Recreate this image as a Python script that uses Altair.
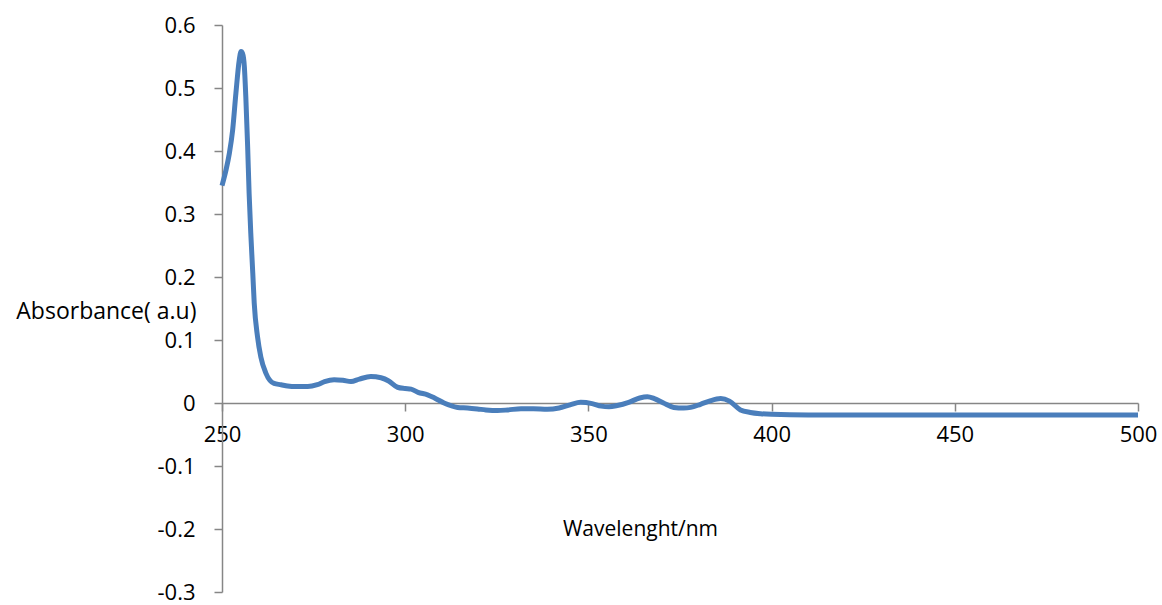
import altair as alt
import pandas as pd

# UV-Vis absorption spectrum
wavelength = [
    250.0, 251.1, 252.0, 252.9, 253.8, 254.7, 255.2, 255.6, 256.1, 256.5,
    257.0, 257.4, 257.9, 258.4, 258.8, 259.7, 260.6, 262.0, 264.2, 266.1,
    267.9, 270.0, 273.4, 276.0, 278.0, 280.6, 283.0, 285.2, 287.5, 290.6,
    293.4, 295.5, 297.9, 300.0, 301.6, 303.5, 306.1, 308.0, 310.6, 314.3,
    317.0, 319.7, 322.0, 325.2, 328.0, 331.6, 335.0, 338.8, 342.0, 345.0,
    347.9, 351.0, 353.5, 355.6, 357.9, 361.0, 364.0, 366.1, 368.0, 370.5,
    373.3, 376.0, 377.9, 380.6, 383.0, 386.1, 388.5, 391.5, 394.2, 397.0,
    400.0, 410.0, 420.0, 430.0, 440.0, 450.0, 460.0, 470.0, 480.0, 490.0,
    500.0,
]
absorbance = [
    0.345, 0.370, 0.396, 0.433, 0.492, 0.544, 0.558, 0.555, 0.534, 0.486,
    0.407, 0.333, 0.264, 0.206, 0.158, 0.105, 0.073, 0.047, 0.031, 0.029,
    0.027, 0.026, 0.026, 0.029, 0.034, 0.037, 0.036, 0.034, 0.038, 0.042,
    0.040, 0.035, 0.025, 0.023, 0.022, 0.017, 0.013, 0.008, 0.000, -0.007,
    -0.008, -0.0095, -0.011, -0.012, -0.011, -0.009, -0.009, -0.010, -0.008, -0.003,
    0.001, -0.001, -0.005, -0.006, -0.004, 0.001, 0.008, 0.010, 0.007, 0.000,
    -0.007, -0.008, -0.007, -0.002, 0.003, 0.007, 0.003, -0.011, -0.015, -0.017,
    -0.018, -0.019, -0.019, -0.019, -0.019, -0.019, -0.019, -0.019, -0.019, -0.019,
    -0.019,
]

x_ticks = [250, 300, 350, 400, 450, 500]
y_ticks = [-0.3, -0.2, -0.1, 0.0, 0.1, 0.2, 0.3, 0.4, 0.5, 0.6]

df = pd.DataFrame({"wavelength": wavelength, "absorbance": absorbance})

PLOT_W, PLOT_H = 916, 567
AXIS_GRAY = "#868686"
FONT = "Open Sans"

# x axis sits on the zero line: shift it up from the bottom edge
zero_offset = -PLOT_H * (0 - (-0.3)) / 0.9

chart = (
    alt.Chart(df)
    .mark_line(color="#4A7EBB", strokeWidth=5, interpolate="monotone")
    .encode(
        x=alt.X(
            "wavelength:Q",
            scale=alt.Scale(domain=[250, 500], nice=False, zero=False),
            axis=alt.Axis(
                values=x_ticks,
                title="Wavelenght/nm",
                titleFont=FONT,
                titleFontSize=21,
                titleFontWeight="normal",
                titleColor="black",
                titleBaseline="middle",
                titleY=126,
                titleX=418,
                labelFont=FONT,
                labelFontSize=22,
                labelColor="black",
                labelPadding=13,
                labelFlush=False,
                labelOverlap=False,
                domainColor=AXIS_GRAY,
                domainWidth=1.5,
                tickColor=AXIS_GRAY,
                tickWidth=1.5,
                tickSize=8,
                grid=False,
                offset=zero_offset,
            ),
        ),
        y=alt.Y(
            "absorbance:Q",
            scale=alt.Scale(domain=[-0.3, 0.6], nice=False, zero=False),
            axis=alt.Axis(
                values=y_ticks,
                title="Absorbance( a.u)",
                titleAngle=0,
                titleAlign="right",
                titleBaseline="middle",
                titleX=-26,
                titleY=286,
                titleFont=FONT,
                titleFontSize=23,
                titleFontWeight="normal",
                titleColor="black",
                labelExpr="toString(round(datum.value*10)/10)",
                labelFont=FONT,
                labelFontSize=22,
                labelColor="black",
                labelPadding=19,
                labelFlush=False,
                labelOverlap=False,
                domainColor=AXIS_GRAY,
                domainWidth=1.5,
                tickColor=AXIS_GRAY,
                tickWidth=1.5,
                tickSize=8,
                grid=False,
            ),
        ),
    )
    .properties(
        width=PLOT_W,
        height=PLOT_H,
        background="white",
        autosize=alt.AutoSizeParams(type="none"),
        padding={"left": 222, "top": 25, "right": 24, "bottom": 13},
    )
    .configure_view(strokeWidth=0)
)

chart.save("out.html", embed_options={"renderer": "svg", "actions": False})
